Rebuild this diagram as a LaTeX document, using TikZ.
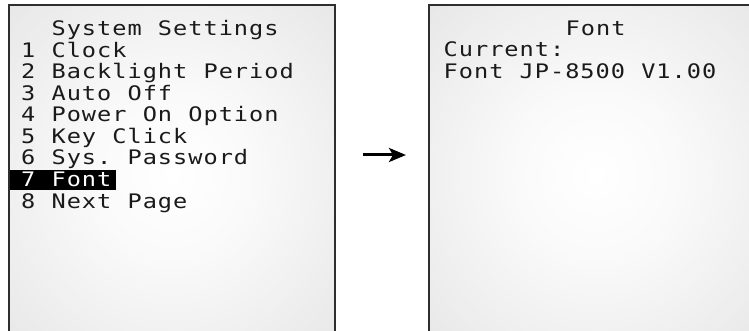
\documentclass[tikz,border=0pt]{standalone}
\usepackage{fontspec}
\newfontfamily\lcd[FakeStretch=1.18]{DejaVu Sans Mono}
\usetikzlibrary{arrows.meta}
\ExplSyntaxOn
\NewDocumentCommand\lcdline{m}{\str_map_inline:nn{#1}{\makebox[15.2pt][c]{##1}}}
\ExplSyntaxOff
\definecolor{txt}{HTML}{1A1A1A}
\definecolor{frame}{HTML}{2E2E2E}
\definecolor{edgegray}{HTML}{DCDCDC}
\definecolor{cornergray}{HTML}{D2D2D2}
\pgfdeclareradialshading{screenshade}{\pgfpoint{0bp}{0bp}}{%
  color(0bp)=(white); color(12bp)=(white!98!black); color(50bp)=(edgegray); color(72bp)=(cornergray)}
\tikzset{
  screen/.style={draw=frame, line width=2.2pt, shading=screenshade, rectangle, inner sep=0pt},
  lcdtext/.style={anchor=base west, inner sep=0pt, text=txt, font=\lcd\fontsize{20}{22}\selectfont},
  hitext/.style={lcdtext, text=white},
  flow/.style={line width=3pt, -{Stealth[length=17pt,width=14pt,inset=4pt]}, draw=black}
}
\begin{document}
\begin{tikzpicture}[x=1pt,y=-1pt]
\useasboundingbox (0,0) rectangle (749,331);
\fill[white] (0,0) rectangle (749,331);
\clip (0,0) rectangle (749,331);
% screens
\node[screen, minimum width=326pt, minimum height=340pt] (s1) at (172,175) {};
\node[screen, minimum width=334pt, minimum height=340pt] (s2) at (596,175) {};
% highlight bar
\fill[black] (9.5,170) rectangle (116,190);
% left screen text
\node[lcdtext] (t0) at (50.9,36) {\lcdline{System Settings}};
\node[lcdtext] (t1) at (20.5,57.5) {\lcdline{1 Clock}};
\node[lcdtext] (t2) at (20.5,79) {\lcdline{2 Backlight Period}};
\node[lcdtext] (t3) at (20.5,100.5) {\lcdline{3 Auto Off}};
\node[lcdtext] (t4) at (20.5,122) {\lcdline{4 Power On Option}};
\node[lcdtext] (t5) at (20.5,143.5) {\lcdline{5 Key Click}};
\node[lcdtext] (t6) at (20.5,165) {\lcdline{6 Sys. Password}};
\node[hitext] (t7) at (20.5,186.5) {\lcdline{7 Font}};
\node[lcdtext] (t8) at (20.5,208) {\lcdline{8 Next Page}};
% right screen text
\node[lcdtext] (r0) at (565,35.5) {\lcdline{Font}};
\node[lcdtext] (r1) at (443,57) {\lcdline{Current:}};
\node[lcdtext] (r2) at (443,78.5) {\lcdline{Font JP-8500 V1.00}};
% arrow
\coordinate (a1) at (363,155);
\coordinate (a2) at (406,155);
\draw[flow] (a1) -- (a2);
\end{tikzpicture}
\end{document}
